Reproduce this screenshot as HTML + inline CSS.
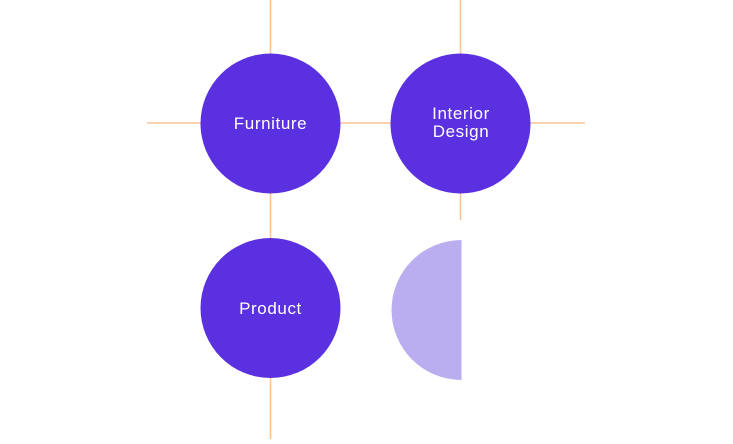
<!DOCTYPE html>
<html><head><style>html,body{margin:0;background:#fff;}</style></head><body>
<svg width="733" height="439" viewBox="0 0 733 439" xmlns="http://www.w3.org/2000/svg">
<g stroke="#fdc08f" stroke-width="1.5">
<line x1="270.5" y1="0" x2="270.5" y2="439"/>
<line x1="147" y1="123" x2="585" y2="123"/>
<line x1="460.5" y1="0" x2="460.5" y2="220"/>
</g>
<g fill="#5a30e0">
<circle cx="270.5" cy="123.5" r="70"/>
<circle cx="460.5" cy="123.5" r="70"/>
<circle cx="270.5" cy="308" r="70"/>
</g>
<path d="M461.5 240 A70 70 0 0 0 461.5 380 Z" fill="#baaef0"/>
<g fill="#fff" font-family="Liberation Sans, sans-serif" font-size="17" letter-spacing="0.6" text-anchor="middle">
<text x="270.5" y="129">Furniture</text>
<text x="461" y="119">Interior</text>
<text x="461" y="137">Design</text>
<text x="270.5" y="314">Product</text>
</g>
</svg>
</body></html>
